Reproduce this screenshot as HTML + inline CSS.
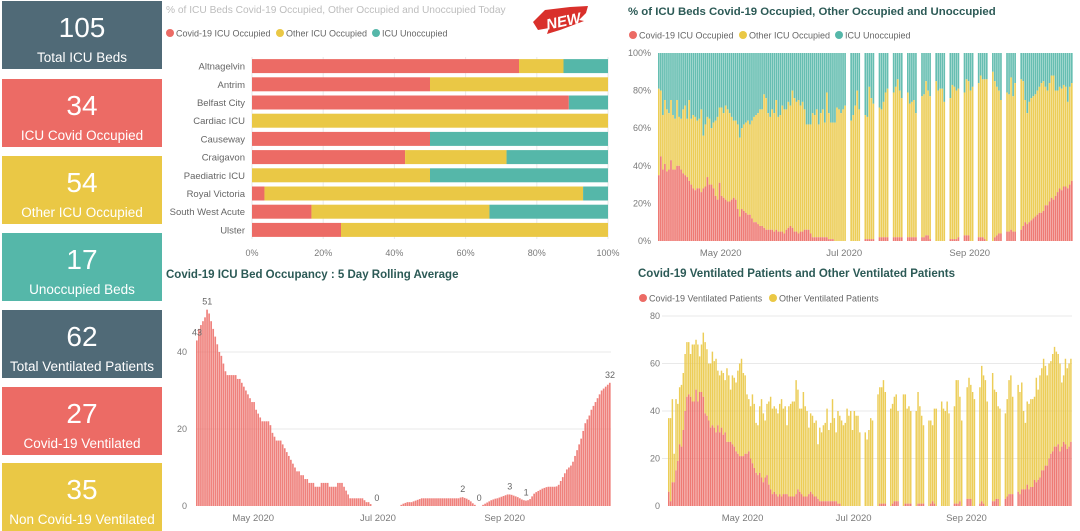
<!DOCTYPE html>
<html><head><meta charset="utf-8">
<style>
html,body{margin:0;padding:0;background:#fff;width:1080px;height:530px;overflow:hidden;font-family:"Liberation Sans",sans-serif;}
.card{position:absolute;left:2px;width:160px;height:68px;color:#fff;text-align:center;}
.card .num{position:absolute;left:0;right:0;top:11px;font-size:28px;line-height:32px;}
.card .lbl{position:absolute;left:0;right:0;top:49px;font-size:13.5px;line-height:16px;white-space:nowrap;}
svg{position:absolute;left:0;top:0;}
</style></head><body>
<div class="card" style="top:1px;background:#506a77"><div class="num">105</div><div class="lbl">Total ICU Beds</div></div>
<div class="card" style="top:79px;background:#ec6b65"><div class="num">34</div><div class="lbl">ICU Covid Occupied</div></div>
<div class="card" style="top:156px;background:#eac845"><div class="num">54</div><div class="lbl">Other ICU Occupied</div></div>
<div class="card" style="top:233px;background:#55b7a9"><div class="num">17</div><div class="lbl">Unoccupied Beds</div></div>
<div class="card" style="top:310px;background:#506a77"><div class="num">62</div><div class="lbl">Total Ventilated Patients</div></div>
<div class="card" style="top:387px;background:#ec6b65"><div class="num">27</div><div class="lbl">Covid-19 Ventilated</div></div>
<div class="card" style="top:463px;background:#eac845"><div class="num">35</div><div class="lbl">Non Covid-19 Ventilated</div></div>

<svg id="chart" width="1080" height="530" viewBox="0 0 1080 530">
 <text x="166" y="13" font-size="10.2" fill="#bdbdbd">% of ICU Beds Covid-19 Occupied, Other Occupied and Unoccupied Today</text>
 <g>
  <path d="M533 22 L545 10 L570 7 L588 6 L586 13 L579 20 L584 21 L560 30 L547 34 L549 28 L538 30 Z" fill="#d9302b"/>
  <text x="546" y="27" font-size="15" font-weight="bold" font-style="italic" fill="#fff" transform="rotate(-12 560 22)">NEW</text>
 </g>
 <text x="628" y="15" font-size="11.4" font-weight="bold" fill="#2c5a56">% of ICU Beds Covid-19 Occupied, Other Occupied and Unoccupied</text>
 <text x="166" y="278" font-size="11.5" font-weight="bold" fill="#2c5a56">Covid-19 ICU Bed Occupancy : 5 Day Rolling Average</text>
 <text x="638" y="277" font-size="11.5" font-weight="bold" fill="#2c5a56">Covid-19 Ventilated Patients and Other Ventilated Patients</text>
</svg>

<script>
// ---------- data: hospital chart ----------
const hospitals = ["Altnagelvin","Antrim","Belfast City","Cardiac ICU","Causeway","Craigavon","Paediatric ICU","Royal Victoria","South West Acute","Ulster"];
const hospCovid = [75,50,89,0,50,43,0,3.5,16.7,25];
const hospOther = [12.5,50,0,100,0,28.5,50,89.5,50,75];
const hospUnocc = [12.5,0,11,0,50,28.5,50,7,33.3,0];
const pctTicks = ["0%","20%","40%","60%","80%","100%"];

// ---------- data: ICU % over time (starts 31 Mar) ----------
const icuCovidPct = [35,45,38,41,37,38,43,38,38,40,40,38,36,35,34,32,30,28,27,28,
28,26,28,29,34,30,30,28,24,22,
31,24,23,22,21,21,22,23,22,17,
13,17,16,15,14,14,12,10,10,9,
8,8,7,6,6,6,6,5,6,5,
5,5,4,6,7,8,7,5,5,4,
5,5,6,6,6,4,2,2,2,2,
2,2,2,2,1,1,1,0,0,0,0,0,0,
null,null,0,0,0,0,0,null,null,1,1,1,1,1,null,null,2,2,2,2,2,null,null,2,2,2,2,2,null,null,2,2,2,2,2,
null,null,2,2,3,3,1,null,null,0,0,0,0,0,null,null,1,1,1,1,2,null,null,3,3,3,0,0,null,null,2,2,2,1,0,
null,null,0,2,3,4,4,null,null,5,5,6,5,5,null,null,
6,8,10,9,10,11,12,13,14,15,15,16,19,19,21,23,22,24,26,28,27,29,29,28,30,32];
const icuOccupiedPct = [81,80,67,75,70,68,75,67,65,75,66,65,70,72,65,75,65,67,66,64,
65,70,56,62,66,65,60,63,64,66,
71,71,68,72,70,68,66,64,64,62,
55,60,62,63,64,62,64,66,67,68,
70,70,78,76,68,66,70,68,75,66,
67,72,70,70,74,72,80,76,74,75,
72,74,70,62,62,62,68,67,70,62,
68,70,63,79,68,63,63,63,71,70,68,70,72,
null,null,64,67,72,80,70,null,null,67,66,82,76,73,null,null,71,70,74,79,81,null,null,79,82,86,80,76,null,null,79,73,74,75,68,
null,null,77,78,85,80,77,null,null,85,80,81,81,74,null,null,76,83,82,80,81,null,null,79,86,85,80,82,null,null,84,88,86,86,86,
null,null,90,85,82,80,75,null,null,79,78,87,77,84,null,null,
86,85,75,68,74,76,77,78,80,82,84,85,82,80,84,88,88,80,80,82,81,83,82,74,82,84];
const monthLabels = ["May 2020","Jul 2020","Sep 2020"];
const icuMonthIdx = [31,92,154];

// ---------- data: 5-day rolling average (starts 3 Apr) ----------
const rollingAvg = [43,46,47,48,49,51,50,48,46,44,
42,40,39,37,35,34,34,34,34,34,
33,33,32,31,30,29,28,27,27,25,
24,23,22,22,22,22,21,19,18,17,
17,17,16,15,14,13,12,11,10,9,
9,8,8,7,7,6,6,6,5,5,
5,6,6,6,6,5,5,5,5,6,
6,6,5,4,3,2,2,2,2,2,
2,2,1.5,1,1,0.5,0,0,0,0,0,0,0,0,0,0,0,0,0,0,
0.3,0.6,0.8,1,1,1,1.2,1.4,1.6,1.8,
2,2,2,2,2,2,2,2,2,2,2,2,2,2,2,2,2,2,
2,2.2,2.3,2.1,1.9,1.6,1.2,0.7,0.3,0,
0,0,0.3,0.6,0.9,1.2,1.5,1.7,1.9,2,
2.2,2.4,2.6,2.8,3,3,2.9,2.7,2.5,2.3,
2,1.7,1.5,1.4,1.5,1.8,2.5,3.2,3.6,3.9,
4.2,4.5,4.7,4.9,5,5,5,5,5.1,5.5,
6.5,7.5,8.5,9.5,10,10.5,11.5,13,14.5,16,
17.5,19.5,21.5,22.5,23.5,25,26,27,28,29,
30,30.5,31,31.5,32];
const rollingLabelIdx = [0,5,88,130,138,153,161,202];
const rollingMonthIdx = [28,89,151];
const rollingTicks = [0,20,40];

// ---------- data: ventilated (starts 21 Mar) ----------
const ventCovid = [6,2,10,10,15,19,26,25,32,40,46,47,46,44,44,49,44,48,48,46,
39,38,36,33,34,33,31,34,31,33,30,31,27,27,27,26,25,23,22,21,
21,21,22,22,23,20,18,16,14,13,14,12,10,12,13,9,7,5,6,5,
4,5,4,5,5,5,4,4,4,4,5,7,6,5,4,4,4,5,6,5,
4,4,3,2,2,2,2,2,2,2,2,2,2,1,1,0,0,0,0,0,
0,0,0,0,0,0,
null,null,0,0,0,0,0,null,null,0,1,1,1,1,null,null,0,1,2,2,2,null,null,0,1,1,1,1,null,null,0,1,1,1,1,
null,null,0,1,2,1,0,null,null,0,0,0,0,0,null,null,1,1,1,2,0,null,null,3,3,3,0,0,null,null,1,2,1,0,0,
null,null,2,2,3,3,0,null,null,3,4,5,5,5,null,null,
6,5,7,7,7,9,7,8,8,11,10,11,12,15,15,17,17,20,22,23,25,25,26,23,25,27,26,24,25,27];
const ventTotal = [37,37,45,22,45,43,50,51,56,64,69,69,64,68,68,70,68,63,68,73,
69,66,60,60,65,61,62,57,55,57,56,53,58,55,49,55,54,52,57,60,
62,56,55,47,45,42,47,43,35,34,42,45,39,36,43,44,46,41,42,41,
39,43,45,41,42,34,42,43,44,44,53,49,41,41,48,42,40,33,39,38,
35,36,26,33,31,34,35,41,32,35,45,37,31,40,38,36,34,35,41,38,
40,32,40,38,38,31,
null,null,31,28,32,37,36,null,null,47,50,50,53,48,null,null,41,43,46,47,40,null,null,47,47,41,42,40,null,null,40,48,42,38,34,
null,null,36,36,34,41,41,null,null,44,41,40,44,39,null,null,42,53,53,46,36,null,null,50,54,51,48,45,null,null,50,59,55,53,44,
null,null,56,49,48,42,41,null,null,39,45,53,55,46,null,null,
51,48,52,40,35,44,43,45,45,46,54,49,55,58,62,59,55,60,61,64,67,65,64,60,52,55,62,58,60,62];
const ventMonthIdx = [41,102,164];
const ventTicks = [0,20,40,60,80];

const RED="#ec6b65", YEL="#eac845", TEAL="#55b7a9", GRID="#e9e9e9", TICK="#7a7a7a";
const svg=document.getElementById('chart');
const NS="http://www.w3.org/2000/svg";
function mk(tag,attrs,parent){const e=document.createElementNS(NS,tag);for(const k in attrs)e.setAttribute(k,attrs[k]);(parent||svg).appendChild(e);return e;}
function txt(s,attrs,parent){const e=mk('text',attrs,parent);e.textContent=s;return e;}

// ---------- hospital stacked bars ----------
(function(){
 const x0=252,x1=608,top=57,rowH=18.2,bh=14;
 const xs=v=>x0+(x1-x0)*v/100;
 const g=mk('g',{});
 
 
 pctTicks.forEach((t,i)=>{
  const x=xs(i*20);
  const l=mk('line',{x1:x,x2:x,y1:top,y2:top+rowH*hospitals.length,stroke:GRID,'stroke-width':1},g);
  
  
  const tl=txt(t,{x:x,y:256,'font-size':9,fill:TICK,'text-anchor':'middle'},g);
  
  
 });
 hospitals.forEach((h,i)=>{
  const cy=top+rowH*(i+0.5);
  const lab=txt(h,{x:245,y:cy+3.5,'font-size':9.5,fill:'#666','text-anchor':'end'},g);
  
  
  let acc=0;
  [[hospCovid[i],RED,'covid'],[hospOther[i],YEL,'other'],[hospUnocc[i],TEAL,'unoccupied']].forEach(([v,c,n])=>{
   if(v>0){const r=mk('rect',{x:xs(acc),y:cy-bh/2,width:xs(acc+v)-xs(acc),height:bh,fill:c},g);
    
    }
   acc+=v;
  });
 });
 [[170,'Covid-19 ICU Occupied',RED],[280,'Other ICU Occupied',YEL],[376,'ICU Unoccupied',TEAL]].forEach(([x,s,c])=>{
  const lg=mk('g',{},g);
  
  
  mk('circle',{cx:x,cy:33,r:4,fill:c},lg);
  txt(s,{x:x+6,y:36.5,'font-size':9,fill:'#666'},lg);
 });
})();

// ---------- ICU % stacked time series ----------
(function(){
 const x0=658,x1=1073,y0=241,y1=53,n=icuCovidPct.length,step=(x1-x0)/n;
 const ys=v=>y0-(y0-y1)*v/100;
 const g=mk('g',{});
 
 
 pctTicks.forEach((t,i)=>{
  const tl=txt(t,{x:651,y:ys(i*20)+3,'font-size':9,fill:TICK,'text-anchor':'end'},g);
  
  
 });
 for(let i=0;i<n;i++){
  const c=icuCovidPct[i],o=icuOccupiedPct[i];
  if(c===null||o===null) continue;
  const x=x0+i*step,w=step*0.82;
  const r1=mk('rect',{x:x,y:ys(100),width:w,height:ys(o)-ys(100),fill:TEAL,opacity:0.9},g);
  
  
  const r2=mk('rect',{x:x,y:ys(o),width:w,height:ys(c)-ys(o),fill:YEL,opacity:0.9},g);
  
  
  const r3=mk('rect',{x:x,y:ys(c),width:w,height:y0-ys(c),fill:RED,opacity:0.9},g);
  
  
 }
 monthLabels.forEach((m,k)=>{
  const tl=txt(m,{x:x0+icuMonthIdx[k]*step,y:256,'font-size':9.5,fill:TICK,'text-anchor':'middle'},g);
  
  
 });
 [[633,'Covid-19 ICU Occupied',RED],[743,'Other ICU Occupied',YEL],[839,'ICU Unoccupied',TEAL]].forEach(([x,s,c])=>{
  const lg=mk('g',{},g);
  
  
  mk('circle',{cx:x,cy:35,r:4,fill:c},lg);
  txt(s,{x:x+6,y:38.5,'font-size':9,fill:'#666'},lg);
 });
})();

// ---------- rolling average ----------
(function(){
 const x0=196,x1=611,y0=506,unit=3.85,n=rollingAvg.length,step=(x1-x0)/n;
 const ys=v=>y0-v*unit;
 const g=mk('g',{});
 
 
 rollingTicks.forEach(t=>{
  if(t>0){const l=mk('line',{x1:x0,x2:x1,y1:ys(t),y2:ys(t),stroke:GRID},g);
   
   }
  const tl=txt(String(t),{x:187,y:ys(t)+3,'font-size':9,fill:TICK,'text-anchor':'end'},g);
  
  
 });
 for(let i=0;i<n;i++){
  const v=rollingAvg[i];
  const r=mk('rect',{x:x0+i*step,y:ys(v),width:step*0.82,height:v*unit,fill:RED,opacity:0.85},g);
  
  
 }
 rollingLabelIdx.forEach(i=>{
  const tl=txt(String(Math.round(rollingAvg[i])),{x:x0+i*step+step/2,y:ys(rollingAvg[i])-5,'font-size':9,fill:'#666','text-anchor':'middle'},g);
  
  
 });
 monthLabels.forEach((m,k)=>{
  const tl=txt(m,{x:x0+rollingMonthIdx[k]*step,y:521,'font-size':9.5,fill:TICK,'text-anchor':'middle'},g);
  
  
 });
})();

// ---------- ventilated ----------
(function(){
 const x0=668,x1=1072,y0=506,unit=2.375,n=ventTotal.length,step=(x1-x0)/n;
 const ys=v=>y0-v*unit;
 const g=mk('g',{});
 
 
 ventTicks.forEach(t=>{
  if(t>0){const l=mk('line',{x1:x0-6,x2:x1,y1:ys(t),y2:ys(t),stroke:GRID},g);
   
   }
  const tl=txt(String(t),{x:660,y:ys(t)+3,'font-size':9,fill:TICK,'text-anchor':'end'},g);
  
  
 });
 for(let i=0;i<n;i++){
  const c=ventCovid[i],t=ventTotal[i];
  if(c===null||t===null) continue;
  const x=x0+i*step,w=step*0.8;
  const r1=mk('rect',{x:x,y:ys(t),width:w,height:ys(c)-ys(t),fill:YEL,opacity:0.9},g);
  
  
  const r2=mk('rect',{x:x,y:ys(c),width:w,height:c*unit,fill:RED,opacity:0.9},g);
  
  
 }
 monthLabels.forEach((m,k)=>{
  const tl=txt(m,{x:x0+ventMonthIdx[k]*step,y:521,'font-size':9.5,fill:TICK,'text-anchor':'middle'},g);
  
  
 });
 [[643,'Covid-19 Ventilated Patients',RED],[773,'Other Ventilated Patients',YEL]].forEach(([x,s,c])=>{
  const lg=mk('g',{},g);
  
  
  mk('circle',{cx:x,cy:298,r:4,fill:c},lg);
  txt(s,{x:x+6,y:301.5,'font-size':9,fill:'#666'},lg);
 });
})();
</script>
</body></html>
